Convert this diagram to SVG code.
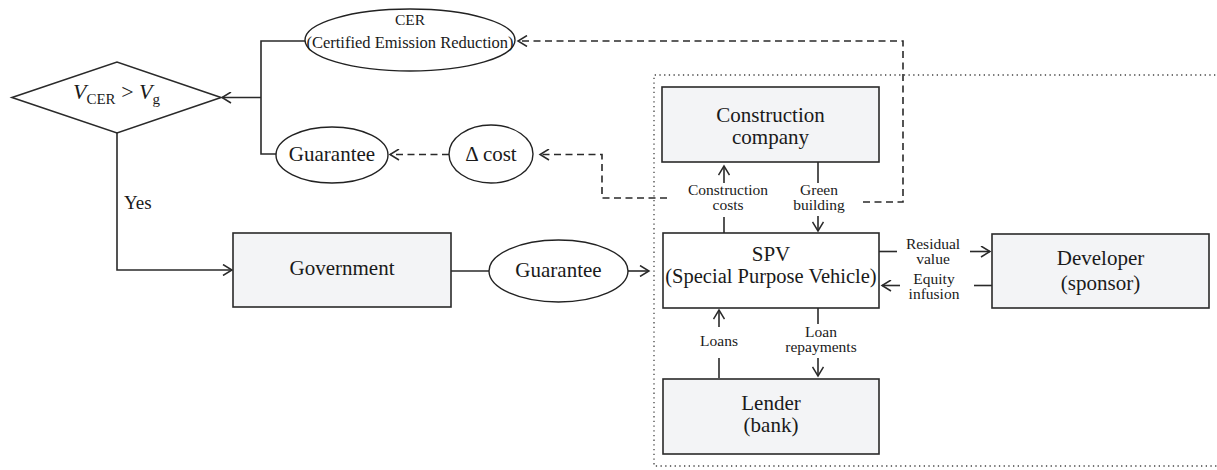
<svg xmlns="http://www.w3.org/2000/svg" width="1217" height="470" viewBox="0 0 1217 470" font-family="'Liberation Serif', 'DejaVu Serif', serif">
<style>
text{font-family:'Liberation Serif','DejaVu Serif',serif;fill:#1a1a1a}
.big{font-size:21px}
.sm{font-size:15.5px}
.box{fill:#f3f4f6;stroke:#2a2a2a;stroke-width:1.6}
.wbox{fill:#fff;stroke:#2a2a2a;stroke-width:1.6}
.ell{fill:#fff;stroke:#222;stroke-width:1.4}
.ln{fill:none;stroke:#2a2a2a;stroke-width:1.6}
.dash{fill:none;stroke:#2a2a2a;stroke-width:1.6;stroke-dasharray:7 4.5}
.dot{fill:none;stroke:#444;stroke-width:1.3;stroke-dasharray:1.3 3.4}
</style>
<defs>
<marker id="ah" viewBox="0 0 12 12" markerWidth="12" markerHeight="12" refX="10" refY="6" orient="auto" markerUnits="userSpaceOnUse">
<path d="M1,0.5 L10,6 L1,11.5" fill="none" stroke="#2a2a2a" stroke-width="1.5" stroke-dasharray="none"/>
</marker>
</defs>

<path id="boundary" class="dot" d="M1220,75 H654 V466 H1220"/>

<g id="connectors">
<path class="ln" d="M305,41 H261 V154 H276"/>
<path class="ln" d="M261,97.5 H222" marker-end="url(#ah)"/>
<path class="ln" d="M117,133 V270 H232" marker-end="url(#ah)"/>
<path class="ln" d="M451,271 H489"/>
<path class="ln" d="M628,271 H649" marker-end="url(#ah)"/>
<path class="dash" d="M449,154.5 H390" marker-end="url(#ah)"/>
<path class="dash" d="M667,198 H602 V154.5 H540" marker-end="url(#ah)"/>
<path class="dash" d="M863,202 H903 V41 H518" marker-end="url(#ah)"/>
<path class="ln" d="M724,233 V217"/>
<path class="ln" d="M724,183 V166" marker-end="url(#ah)"/>
<path class="ln" d="M818,162 V183"/>
<path class="ln" d="M818,216 V231" marker-end="url(#ah)"/>
<path class="ln" d="M719,378 V358"/>
<path class="ln" d="M719,327 V310" marker-end="url(#ah)"/>
<path class="ln" d="M818,308 V324"/>
<path class="ln" d="M818,358 V376" marker-end="url(#ah)"/>
<path class="ln" d="M879,251.5 H897"/>
<path class="ln" d="M970,251.5 H990" marker-end="url(#ah)"/>
<path class="ln" d="M992,285.5 H974"/>
<path class="ln" d="M900,285.5 H882" marker-end="url(#ah)"/>
<text class="sm" text-anchor="middle"><tspan x="728" y="195">Construction</tspan><tspan x="728" y="210">costs</tspan></text>
<text class="sm" text-anchor="middle"><tspan x="819" y="195">Green</tspan><tspan x="819" y="210">building</tspan></text>
<text class="sm" text-anchor="middle"><tspan x="933" y="249">Residual</tspan><tspan x="933" y="264">value</tspan></text>
<text class="sm" text-anchor="middle"><tspan x="934" y="284">Equity</tspan><tspan x="934" y="299">infusion</tspan></text>
<text class="sm" x="719" y="346" text-anchor="middle">Loans</text>
<text class="sm" text-anchor="middle"><tspan x="821" y="337">Loan</tspan><tspan x="821" y="352">repayments</tspan></text>
<text x="124" y="209" style="font-size:19px">Yes</text>
</g>

<g id="decision">
<path d="M12,97.5 L117,62 L221,97.5 L117,133 Z" fill="#fff" stroke="#2a2a2a" stroke-width="1.6"/>
<text x="73" y="99" style="font-size:22px"><tspan font-style="italic">V</tspan><tspan dy="5" style="font-size:15px">CER</tspan><tspan dy="-5"> &gt; </tspan><tspan font-style="italic">V</tspan><tspan dy="5" style="font-size:15px">g</tspan></text>
</g>

<g id="cer">
<ellipse class="ell" cx="410" cy="40" rx="105" ry="31"/>
<text text-anchor="middle"><tspan class="sm" x="410" y="25">CER</tspan><tspan x="410" y="48" style="font-size:16.5px">(Certified Emission Reduction)</tspan></text>
</g>

<g id="guarantee-top">
<ellipse class="ell" cx="332" cy="155" rx="56" ry="28"/>
<text class="big" x="332" y="161" text-anchor="middle">Guarantee</text>
</g>

<g id="delta-cost">
<ellipse class="ell" cx="491" cy="154" rx="42" ry="29"/>
<text class="big" x="491" y="161" text-anchor="middle">Δ cost</text>
</g>

<g id="government">
<rect class="box" x="233" y="233" width="218" height="74"/>
<text class="big" x="342" y="275" text-anchor="middle">Government</text>
</g>

<g id="guarantee-mid">
<ellipse class="ell" cx="558.5" cy="271" rx="69.5" ry="31"/>
<text class="big" x="558.5" y="277" text-anchor="middle">Guarantee</text>
</g>

<g id="construction">
<rect class="box" x="662" y="87" width="217" height="75"/>
<text class="big" text-anchor="middle"><tspan x="770.5" y="122">Construction</tspan><tspan x="770.5" y="144">company</tspan></text>
</g>

<g id="spv">
<rect class="wbox" x="663" y="233" width="216" height="75"/>
<text text-anchor="middle"><tspan class="big" x="771" y="261">SPV</tspan><tspan x="771" y="283" style="font-size:20.5px">(Special Purpose Vehicle)</tspan></text>
</g>

<g id="developer">
<rect class="box" x="992" y="234" width="217" height="74"/>
<text class="big" text-anchor="middle"><tspan x="1100.5" y="265">Developer</tspan><tspan x="1100.5" y="290">(sponsor)</tspan></text>
</g>

<g id="lender">
<rect class="box" x="663" y="379" width="216" height="75"/>
<text class="big" text-anchor="middle"><tspan x="771" y="410">Lender</tspan><tspan x="771" y="432">(bank)</tspan></text>
</g>
</svg>
